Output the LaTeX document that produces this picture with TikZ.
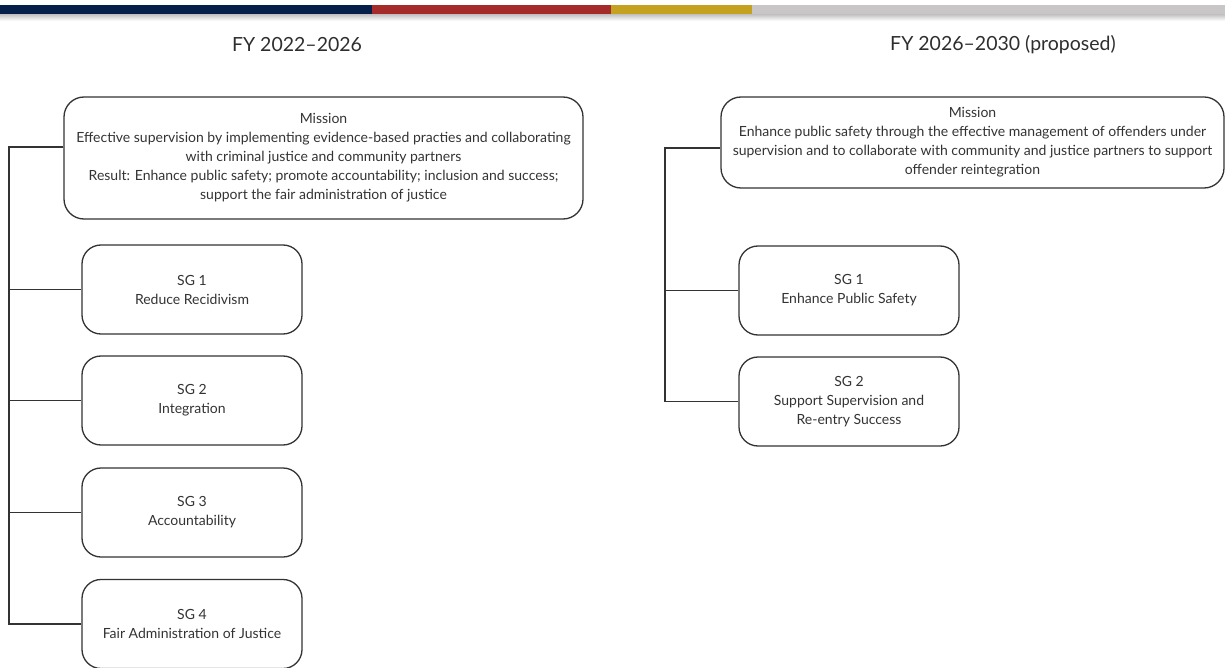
\documentclass[tikz,border=0pt]{standalone}
\usepackage{fontspec}
\setmainfont{Lato}
\usetikzlibrary{positioning, calc}
\definecolor{navybar}{RGB}{6,30,74}
\definecolor{redbar}{RGB}{165,42,42}
\definecolor{goldbar}{RGB}{196,161,30}
\definecolor{greybar}{RGB}{200,198,198}
\definecolor{ink}{RGB}{51,51,51}
\tikzset{
  goal/.style={draw=ink, line width=1.3pt, rounded corners=19pt, align=center, text=ink,
    font=\fontsize{14}{19}\selectfont, minimum width=220pt, minimum height=89pt, inner sep=0pt},
  mission/.style={goal, rounded corners=20pt},
  link/.style={draw=ink, line width=1.3pt},
  ttl/.style={font=\fontsize{19.5}{22}\selectfont, text=ink!90!black, inner sep=0pt}
}

\begin{document}
\begin{tikzpicture}[x=1pt, y=-1pt]
\useasboundingbox (0,0) rectangle (1225,668);
% colour strip at the top
\shade[top color=black!25, bottom color=white] (0,14) rectangle (1225,21);
\fill[navybar] (0,5) rectangle (372,14);
\fill[redbar] (372,5) rectangle (611,14);
\fill[goldbar] (611,5) rectangle (752,14);
\fill[greybar] (752,5) rectangle (1225,14);

% FY 2022--2026
\node[ttl] (ttlL) at (297,45) {FY 2022--2026};
\node[mission, minimum width=519pt, minimum height=122pt] (mL) at (323.5,158)
  {Mission\\
   Effective supervision by implementing evidence-based practies and collaborating\\
   with criminal justice and community partners\\
   Result: Enhance public safety; promote accountability; inclusion and success;\\
   support the fair administration of justice};
\node[goal] (sgL1) at (192,289.5) {SG 1\\Reduce Recidivism};
\node[goal] (sgL2) at (192,400.5) {SG 2\\Integration};
\node[goal] (sgL3) at (192,512.5) {SG 3\\Accountability};
\node[goal] (sgL4) at (192,624) {SG 4\\Fair Administration of Justice};
\coordinate (tL) at (9,147);
\draw[link] (mL.west |- tL) -- (tL) -- (tL |- sgL4.west) -- (sgL4.west);
\foreach \g in {sgL1, sgL2, sgL3}
  \draw[link] (tL |- \g.west) -- (\g.west);

% FY 2026--2030
\node[ttl] (ttlR) at (1003,45) {FY 2026--2030 (proposed)};
\node[mission, minimum width=503pt, minimum height=91pt] (mR) at (972.5,142.5)
  {Mission\\
   Enhance public safety through the effective management of offenders under\\
   supervision and to collaborate with community and justice partners to support\\
   offender reintegration};
\node[goal] (sgR1) at (849,290.5) {SG 1\\Enhance Public Safety};
\node[goal] (sgR2) at (849,401.5) {SG 2\\Support Supervision and\\Re-entry Success};
\coordinate (tR) at (665,148);
\draw[link] (mR.west |- tR) -- (tR) -- (tR |- sgR2.west) -- (sgR2.west);
\draw[link] (tR |- sgR1.west) -- (sgR1.west);
\end{tikzpicture}
\end{document}
